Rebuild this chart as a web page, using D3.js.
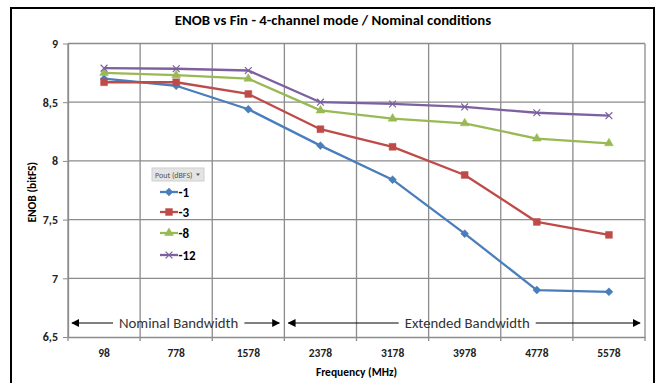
<!DOCTYPE html>
<html>
<head>
<meta charset="utf-8">
<script src="https://cdn.jsdelivr.net/npm/d3@7"></script>
<style>
  html, body { margin: 0; padding: 0; background: #fff; }
  svg { display: block; }
  text { font-family: Carlito, Calibri, 'Liberation Sans Narrow', 'Liberation Sans', sans-serif; }
</style>
</head>
<body>
<div id="chart"></div>
<script>
// data
const categories = ['98', '778', '1578', '2378', '3178', '3978', '4778', '5578'];
const seriesNames = ['-1', '-3', '-8', '-12'];
const enobM1 = [8.70, 8.64, 8.44, 8.13, 7.84, 7.38, 6.90, 6.885];
const enobM3 = [8.67, 8.67, 8.57, 8.27, 8.12, 7.88, 7.48, 7.37];
const enobM8 = [8.75, 8.73, 8.70, 8.43, 8.36, 8.32, 8.19, 8.15];
const enobM12 = [8.79, 8.785, 8.77, 8.50, 8.485, 8.46, 8.41, 8.385];
const yTicks = [6.5, 7, 7.5, 8, 8.5, 9];
const bandNotes = [
  {text: 'Nominal Bandwidth', from: '98', to: '1578'},
  {text: 'Extended Bandwidth', from: '2378', to: '5578'}
];

const seriesValues = [enobM1, enobM3, enobM8, enobM12];
const colors = ['#4a7ebb', '#be4b48', '#98b954', '#7d60a0'];
const markers = [d3.symbolDiamond2, d3.symbolSquare2, d3.symbolTriangle2, d3.symbolTimes];
const markerSize = [40, 60, 55, 32];

const width = 659;
const height = 383;
const margin = {top: 43.5, right: 14, bottom: 46, left: 68};

const svg = d3.select('#chart').append('svg')
    .attr('width', width)
    .attr('height', height);

svg.append('rect')
    .attr('x', 11).attr('y', 8)
    .attr('width', 643).attr('height', 420)
    .attr('fill', '#fff')
    .attr('stroke', '#000')
    .attr('stroke-width', 2);

const x = d3.scaleBand()
    .domain(categories)
    .range([margin.left, width - margin.right]);

const y = d3.scaleLinear()
    .domain([6.5, 9])
    .range([height - margin.bottom, margin.top]);

const grid = svg.append('g').attr('stroke', '#8c8c8c').attr('stroke-width', 1.3);

// horizontal gridlines
grid.selectAll('line.h')
    .data(yTicks.filter((t) => t > 6.5))
    .join('line')
    .attr('x1', margin.left).attr('x2', width - margin.right)
    .attr('y1', (d) => y(d)).attr('y2', (d) => y(d));

// vertical gridlines at band edges, plus little ticks below the axis
const edges = categories.map((c) => x(c)).concat([x.range()[1]]);
grid.selectAll('line.v')
    .data(edges)
    .join('line')
    .attr('x1', (d) => d).attr('x2', (d) => d)
    .attr('y1', margin.top).attr('y2', y(6.5) + 4);

// y axis
const yAxis = svg.append('g')
    .attr('transform', `translate(${margin.left},0)`)
    .call(d3.axisLeft(y)
        .tickValues(yTicks)
        .tickSize(5)
        .tickSizeOuter(0)
        .tickPadding(5)
        .tickFormat((d) => String(d).replace('.', ',')));
yAxis.select('.domain').attr('stroke', '#8c8c8c').attr('stroke-width', 1.3);
yAxis.selectAll('.tick line').attr('stroke', '#8c8c8c');
yAxis.selectAll('.tick text')
    .attr('font-size', 12)
    .attr('font-weight', 'bold')
    .attr('fill', '#222');

// x axis
const xAxis = svg.append('g')
    .attr('transform', `translate(0,${y(6.5)})`)
    .call(d3.axisBottom(x).tickSize(0).tickPadding(12));
xAxis.select('.domain').attr('stroke', '#8c8c8c').attr('stroke-width', 1.3);
xAxis.selectAll('.tick text')
    .attr('font-size', 11.5)
    .attr('font-weight', 'bold')
    .attr('fill', '#222');

// titles
svg.append('text')
    .attr('x', 333).attr('y', 25)
    .attr('text-anchor', 'middle')
    .attr('font-size', 14.8)
    .attr('font-weight', 'bold')
    .text('ENOB vs Fin - 4-channel mode / Nominal conditions');

svg.append('text')
    .attr('transform', `translate(36,${(margin.top + y(6.5)) / 2 + 2}) rotate(-90)`)
    .attr('text-anchor', 'middle')
    .attr('font-size', 11.5)
    .attr('font-weight', 'bold')
    .text('ENOB (bitFS)');

svg.append('text')
    .attr('x', (margin.left + x.range()[1]) / 2)
    .attr('y', 376)
    .attr('text-anchor', 'middle')
    .attr('font-size', 11.5)
    .attr('font-weight', 'bold')
    .text('Frequency (MHz)');

// bandwidth arrows
const arrowY = y(6.5) - 14;
svg.append('defs').append('marker')
    .attr('id', 'head')
    .attr('viewBox', '0 0 10 10')
    .attr('refX', 9).attr('refY', 5)
    .attr('markerWidth', 8).attr('markerHeight', 8)
    .attr('markerUnits', 'userSpaceOnUse')
    .attr('orient', 'auto-start-reverse')
    .append('path')
    .attr('d', 'M0,0L10,5L0,10z')
    .attr('fill', '#000');

bandNotes.forEach((n) => {
  const x0 = x(n.from) + 4;
  const x1 = x(n.to) + x.bandwidth() - 5;
  const label = svg.append('text')
      .attr('x', (x0 + x1) / 2 + 3)
      .attr('y', arrowY + 5)
      .attr('text-anchor', 'middle')
      .attr('font-size', 14.8)
      .attr('fill', '#333')
      .text(n.text);
  const bb = label.node().getBBox();
  svg.append('line')
      .attr('x1', bb.x - 6).attr('x2', x0)
      .attr('y1', arrowY).attr('y2', arrowY)
      .attr('stroke', '#000').attr('stroke-width', 1)
      .attr('marker-end', 'url(#head)');
  svg.append('line')
      .attr('x1', bb.x + bb.width + 6).attr('x2', x1)
      .attr('y1', arrowY).attr('y2', arrowY)
      .attr('stroke', '#000').attr('stroke-width', 1)
      .attr('marker-end', 'url(#head)');
});

// series
const cx = (c) => x(c) + x.bandwidth() / 2;
const line = d3.line()
    .x((d, i) => cx(categories[i]))
    .y((d) => y(d));

seriesValues.forEach((vals, s) => {
  const g = svg.append('g');
  g.append('path')
      .datum(vals)
      .attr('fill', 'none')
      .attr('stroke', colors[s])
      .attr('stroke-width', 2.3)
      .attr('stroke-linejoin', 'round')
      .attr('d', line);
  const sym = d3.symbol().type(markers[s]).size(markerSize[s]);
  g.selectAll('path.m')
      .data(vals)
      .join('path')
      .attr('transform', (d, i) => `translate(${cx(categories[i])},${y(d)})`)
      .attr('d', sym)
      .attr('fill', s === 3 ? 'none' : colors[s])
      .attr('stroke', colors[s])
      .attr('stroke-width', s === 3 ? 1.2 : 0.5);
});

// legend
const lg = svg.append('g');
lg.append('rect')
    .attr('x', 152).attr('y', 168)
    .attr('width', 52).attr('height', 13)
    .attr('fill', '#e4e4e4')
    .attr('stroke', '#cfcfcf');
lg.append('text')
    .attr('x', 155).attr('y', 177.5)
    .attr('font-size', 8)
    .attr('fill', '#555')
    .text('Pout (dBFS)');
lg.append('path')
    .attr('d', 'M196,173.5h4l-2,2.5z')
    .attr('fill', '#555');

const legendY = [192, 212, 233, 255];
seriesNames.forEach((name, s) => {
  const ly = legendY[s];
  lg.append('line')
      .attr('x1', 160).attr('x2', 178)
      .attr('y1', ly).attr('y2', ly)
      .attr('stroke', colors[s]).attr('stroke-width', 2.3);
  lg.append('path')
      .attr('transform', `translate(169,${ly})`)
      .attr('d', d3.symbol().type(markers[s]).size(markerSize[s])())
      .attr('fill', s === 3 ? 'none' : colors[s])
      .attr('stroke', colors[s])
      .attr('stroke-width', s === 3 ? 1.2 : 0.5);
  lg.append('text')
      .attr('x', 178.5).attr('y', ly + 4.5)
      .attr('font-size', 13)
      .attr('font-weight', 'bold')
      .text(name);
});
</script>
</body>
</html>
